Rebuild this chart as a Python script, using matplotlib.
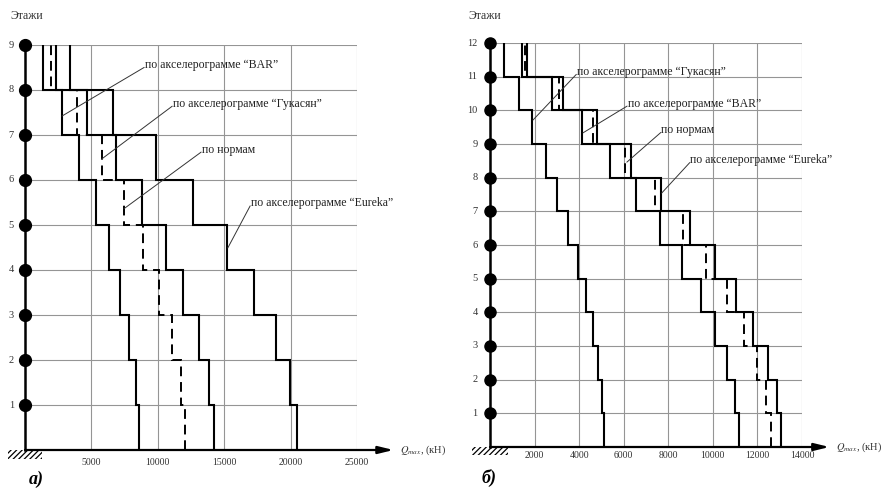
import matplotlib.pyplot as plt
import numpy as np
from matplotlib.patches import Rectangle

plt.rcParams['font.family'] = ['Liberation Serif', 'DejaVu Serif']
plt.rcParams['mathtext.fontset'] = 'stix'
plt.rcParams['hatch.linewidth'] = 0.9

# panel a) - 9 floors, values per storey from floor 0-1 upwards (kN)
floors_a = np.arange(0, 10)
bar_a = [8570, 8350, 7820, 7145, 6318, 5340, 4060, 2782, 1354]
norm_a = [12030, 11730, 11050, 10080, 8875, 7445, 5790, 3910, 1955]
gukasyan_a = [14210, 13840, 13090, 11880, 10600, 8800, 6843, 4662, 2331]
eureka_a = [20450, 19930, 18870, 17220, 15200, 12630, 9850, 6618, 3384]
xticks_a = [5000, 10000, 15000, 20000, 25000]

# panel б) - 12 floors
floors_b = np.arange(0, 13)
gukasyan_b = [5107, 5032, 4853, 4630, 4286, 3928, 3509, 2987, 2495, 1897, 1300, 627]
bar_b = [11155, 10976, 10633, 10110, 9453, 8616, 7646, 6571, 5406, 4137, 2780, 1448]
norm_b = [12589, 12365, 11993, 11400, 10648, 9707, 8661, 7423, 6078, 4630, 3105, 1568]
eureka_b = [13037, 12872, 12468, 11820, 11050, 10080, 8960, 7661, 6317, 4810, 3256, 1658]
xticks_b = [2000, 4000, 6000, 8000, 10000, 12000, 14000]

# leader labels: text, text position, pointed position (data coords)
notes_a = [
    ("по акселерограмме “BAR”", (9020, 8.55), (2780, 7.42)),
    ("по акселерограмме “Гукасян”", (11130, 7.69), (5790, 6.47)),
    ("по нормам", (13310, 6.67), (7445, 5.36)),
    ("по акселерограмме “Eureka”", (17000, 5.49), (15270, 4.49)),
]
notes_b = [
    ("по акселерограмме “Гукасян”", (3900, 11.14), (1926, 9.71)),
    ("по акселерограмме “BAR”", (6180, 10.19), (4170, 9.33)),
    ("по нормам", (7690, 9.41), (6140, 8.46)),
    ("по акселерограмме “Eureka”", (8990, 8.52), (7700, 7.54)),
]

W, H = 888, 490
fig = plt.figure(figsize=(W / 100, H / 100), dpi=100)


def px_axes(x0, x1, y0, y1):
    # pixel box (top-left origin) -> axes
    return fig.add_axes([x0 / W, 1 - y1 / H, (x1 - x0) / W, (y1 - y0) / H])


def draw_panel(ax, floors, solid, dashed, xticks, arrow_end, hatch_w, hatch_h,
               lab_off, tick_off, notes, ms):
    top = floors[-1]
    xmax = xticks[-1]
    ax.set_xlim(0, xmax)
    ax.set_ylim(0, top)
    ax.axis('off')

    for xt in xticks:
        ax.plot([xt, xt], [0, top], color='#959595', lw=0.8, zorder=1)
    for fl in floors[1:]:
        ax.plot([0, xmax], [fl, fl], color='#959595', lw=0.8, zorder=1)

    for s in solid:
        ax.stairs(s, floors, orientation='horizontal', baseline=None,
                  color='k', lw=1.5, zorder=3)
    ax.stairs(dashed, floors, orientation='horizontal', baseline=None,
              color='k', lw=1.4, linestyle=(0, (5, 3)), zorder=3)

    # vertical axis with floor markers
    ax.plot([0, 0], [0, top], color='k', lw=1.8, clip_on=False, zorder=4)
    ax.plot(np.zeros(len(floors) - 1), floors[1:], 'o', color='k', ms=ms,
            clip_on=False, zorder=5)
    for fl in floors[1:]:
        ax.annotate(str(fl), (0, fl), xytext=(lab_off, 0), textcoords='offset points',
                    ha='right', va='center', fontsize=7.5, color='#333333')

    # horizontal axis with arrow
    ax.annotate('', xy=(arrow_end, 0), xytext=(0, 0),
                arrowprops=dict(arrowstyle='-|>,head_length=0.9,head_width=0.22',
                                lw=1.6, color='k', shrinkA=0, shrinkB=0),
                annotation_clip=False, zorder=4)
    ax.annotate('$Q_{max}$, (кН)', (arrow_end, 0), xytext=(5, 0),
                textcoords='offset points', ha='left', va='center',
                fontsize=7.5, color='#333333', annotation_clip=False)
    for xt in xticks:
        ax.annotate(str(xt), (xt, 0), xytext=(0, tick_off), textcoords='offset points',
                    ha='center', va='top', fontsize=7, color='#333333',
                    annotation_clip=False)

    ax.add_patch(Rectangle((-hatch_w, -hatch_h), 2 * hatch_w, hatch_h, fill=False,
                           hatch='//////', lw=0, ec='k', clip_on=False))

    for txt, tpos, ppos in notes:
        ax.annotate(txt, ppos, xytext=tpos, ha='left', va='center', fontsize=8.5,
                    color='#222222', zorder=6,
                    bbox=dict(boxstyle='square,pad=0.05', fc='none', ec='none'),
                    arrowprops=dict(arrowstyle='-', lw=0.7, color='#333333',
                                    shrinkA=0, shrinkB=0, relpos=(0, 0.35)))


ax_a = px_axes(25, 357, 45, 450)
draw_panel(ax_a, floors_a, [bar_a, gukasyan_a, eureka_a], norm_a, xticks_a,
           arrow_end=27750, hatch_w=1300, hatch_h=0.2, lab_off=-8, tick_off=-6,
           notes=notes_a, ms=8.5)

ax_b = px_axes(490, 802, 43, 447)
draw_panel(ax_b, floors_b, [gukasyan_b, bar_b, eureka_b], norm_b, xticks_b,
           arrow_end=15230, hatch_w=800, hatch_h=0.25, lab_off=-9, tick_off=-3,
           notes=notes_b, ms=8)

fig.text(10 / W, 1 - 16 / H, 'Этажи', ha='left', va='center', fontsize=8.5, color='#333333')
fig.text(468 / W, 1 - 16 / H, 'Этажи', ha='left', va='center', fontsize=8.5, color='#333333')
fig.text(29 / W, 1 - 479 / H, 'а)', ha='left', va='center', fontsize=13,
         fontweight='bold', fontstyle='italic')
fig.text(482 / W, 1 - 478 / H, 'б)', ha='left', va='center', fontsize=13,
         fontweight='bold', fontstyle='italic')

fig.savefig('out.png', dpi=100, facecolor='white')
